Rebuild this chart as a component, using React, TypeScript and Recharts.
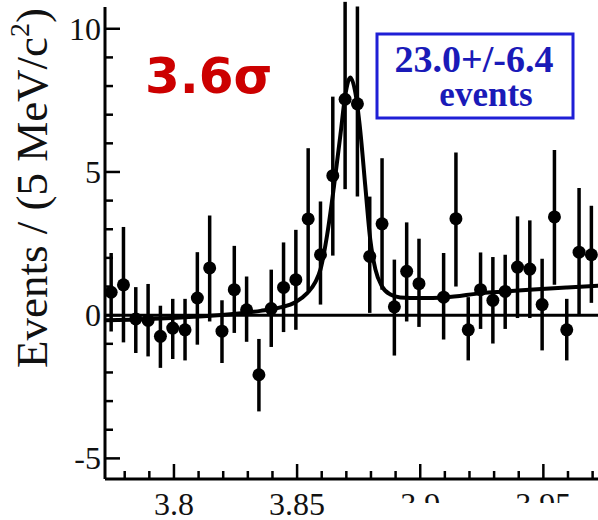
import React from "react";
import {
  ComposedChart,
  XAxis,
  YAxis,
  Scatter,
  Line,
  ErrorBar,
  ReferenceLine,
} from "recharts";

// bin centres (GeV/c^2) of the points that are drawn; the 3.9045 bin has no point
const binCenters = [
  3.7745, 3.7795, 3.7845, 3.7895, 3.7945, 3.7995, 3.8045, 3.8095, 3.8145,
  3.8195, 3.8245, 3.8295, 3.8345, 3.8395, 3.8445, 3.8495, 3.8545, 3.8595,
  3.8645, 3.8695, 3.8745, 3.8795, 3.8845, 3.8895, 3.8945, 3.8995, 3.9095,
  3.9145, 3.9195, 3.9245, 3.9295, 3.9345, 3.9395, 3.9445, 3.9495, 3.9545,
  3.9595, 3.9645, 3.9695,
];
const events = [
  0.8, 1.06, -0.13, -0.18, -0.74, -0.45, -0.51, 0.6, 1.65, -0.56, 0.89, 0.19,
  -2.08, 0.23, 0.97, 1.24, 3.36, 2.11, 4.87, 7.54, 7.38, 2.05, 3.19, 0.29,
  1.53, 1.1, 0.63, 3.37, -0.51, 0.89, 0.52, 0.83, 1.68, 1.61, 0.37, 3.43,
  -0.51, 2.2, 2.11,
];
const errUp = [
  1.37, 2.02, 1.11, 1.27, 1.07, 1.02, 1.08, 1.6, 1.83, 1.08, 1.53, 1.16, 1.25,
  1.36, 1.57, 1.74, 2.47, 1.86, 2.76, 3.4, 3.4, 2.09, 2.29, 1.65, 1.71, 1.57,
  1.54, 2.31, 1.14, 1.3, 1.51, 1.28, 1.77, 1.7, 1.6, 2.34, 1.08, 2.24, 1.71,
];
const errDown = [
  1.37, 2.01, 1.19, 1.26, 1.1, 1.08, 1.07, 1.63, 1.87, 1.11, 1.51, 1.12, 1.28,
  1.34, 1.56, 1.75, 2.51, 1.74, 2.79, 3.14, 3.24, 1.97, 2.3, 1.7, 1.75, 1.51,
  1.48, 2.37, 1.07, 1.37, 1.51, 1.31, 1.78, 1.71, 1.6, 2.37, 1.07, 2.18, 1.68,
];

// fit curve
const fitMass = [
  3.7722, 3.7823, 3.7945, 3.8047, 3.8148, 3.825, 3.8351, 3.8432, 3.8493,
  3.8541, 3.8574, 3.8595, 3.8622, 3.8649, 3.8676, 3.8696, 3.8716, 3.8737,
  3.8757, 3.8777, 3.8797, 3.8818, 3.8845, 3.8879, 3.8919, 3.9, 3.9102, 3.9251,
  3.9352, 3.9459, 3.9596, 3.973,
];
const fitValue = [
  -0.18, -0.16, -0.12, -0.07, -0.02, 0.05, 0.15, 0.27, 0.45, 0.77, 1.15, 1.6,
  2.8, 4.45, 6.3, 7.7, 8.3, 7.75, 6.4, 4.5, 2.65, 1.6, 1.0, 0.72, 0.62, 0.6,
  0.62, 0.77, 0.83, 0.9, 0.97, 1.03,
];

const xTicks = [
  3.78, 3.79, 3.8, 3.81, 3.82, 3.83, 3.84, 3.85, 3.86, 3.87, 3.88, 3.89, 3.9,
  3.91, 3.92, 3.93, 3.94, 3.95, 3.96, 3.97,
];
const xMajor = [3.8, 3.85, 3.9, 3.95];
const yTicks = [-5, -4, -3, -2, -1, 0, 1, 2, 3, 4, 5, 6, 7, 8, 9, 10];
const yMajor = [-5, 0, 5, 10];

const points = binCenters.map((m, i) => ({
  m,
  v: events[i],
  err: [errDown[i], errUp[i]],
}));
const fit = fitMass.map((m, i) => ({ m, f: fitValue[i] }));

const SERIF = "'Liberation Serif', 'Times New Roman', serif";
const LW = 2.5;

function BottomTick(props: any) {
  const { x, y, payload } = props;
  const major = xMajor.includes(payload.value);
  const cut = payload.value >= 3.9;
  const id = "xclip" + String(payload.value).replace(".", "_");
  return (
    <g>
      <line x1={x} x2={x} y1={y} y2={y - (major ? 15 : 8)} stroke="#000" strokeWidth={LW} />
      {major && cut && (
        <clipPath id={id}>
          <rect x={x - 60} y={y} width={120} height={24} />
        </clipPath>
      )}
      {major && (
        <text
          x={x}
          y={y + 36}
          textAnchor="middle"
          fontSize={32}
          fontFamily={SERIF}
          fill="#111"
          clipPath={cut ? `url(#${id})` : undefined}
        >
          {payload.value}
        </text>
      )}
    </g>
  );
}

function TopTick(props: any) {
  const { x, y, payload } = props;
  const major = xMajor.includes(payload.value);
  return <line x1={x} x2={x} y1={y} y2={y + (major ? 15 : 8)} stroke="#000" strokeWidth={LW} />;
}

function LeftTick(props: any) {
  const { x, y, payload } = props;
  const major = yMajor.includes(payload.value);
  return (
    <g>
      <line x1={x} x2={x + (major ? 15 : 8)} y1={y} y2={y} stroke="#000" strokeWidth={LW} />
      {major && (
        <text x={x - 4} y={y + 11} textAnchor="end" fontSize={32} fontFamily={SERIF} fill="#111">
          {payload.value}
        </text>
      )}
    </g>
  );
}

function RightTick(props: any) {
  const { x, y, payload } = props;
  const major = yMajor.includes(payload.value);
  return <line x1={x} x2={x - (major ? 15 : 8)} y1={y} y2={y} stroke="#000" strokeWidth={LW} />;
}

const Dot = (p: any) => <circle cx={p.cx} cy={p.cy} r={6.5} fill="#000" />;

export default function App() {
  return (
    <div
      style={{
        position: "fixed",
        left: 0,
        top: 0,
        width: 598,
        height: 520,
        overflow: "hidden",
        background: "#fff",
      }}
    >
      <ComposedChart width={600} height={520} margin={{ top: 7, right: 0, bottom: 0, left: 0 }}>
        <XAxis
          xAxisId="b"
          type="number"
          dataKey="m"
          domain={[3.772, 3.973]}
          ticks={xTicks}
          interval={0}
          height={41}
          tickSize={0}
          tickMargin={0}
          tick={<BottomTick />}
          axisLine={{ stroke: "#000", strokeWidth: 3 }}
          allowDataOverflow
        />
        <XAxis
          xAxisId="t"
          orientation="top"
          type="number"
          dataKey="m"
          domain={[3.772, 3.973]}
          ticks={xTicks}
          interval={0}
          height={0}
          tickSize={0}
          tickMargin={0}
          tick={<TopTick />}
          axisLine={{ stroke: "#000", strokeWidth: 3 }}
          allowDataOverflow
        />
        <YAxis
          yAxisId="l"
          type="number"
          domain={[-5.72, 10.76]}
          ticks={yTicks}
          interval={0}
          width={105}
          tickSize={0}
          tickMargin={0}
          tick={<LeftTick />}
          axisLine={{ stroke: "#000", strokeWidth: 3 }}
          allowDataOverflow
        />
        <YAxis
          yAxisId="r"
          orientation="right"
          type="number"
          domain={[-5.72, 10.76]}
          ticks={yTicks}
          interval={0}
          width={0}
          tickSize={0}
          tickMargin={0}
          tick={<RightTick />}
          axisLine={{ stroke: "#000", strokeWidth: 3 }}
          allowDataOverflow
        />
        <ReferenceLine xAxisId="b" yAxisId="l" y={0} stroke="#000" strokeWidth={3} />
        <Line
          xAxisId="b"
          yAxisId="l"
          data={fit}
          dataKey="f"
          type="monotone"
          stroke="#000"
          strokeWidth={4}
          dot={false}
          activeDot={false}
          isAnimationActive={false}
        />
        <Scatter
          xAxisId="b"
          yAxisId="l"
          data={points}
          dataKey="v"
          shape={Dot}
          isAnimationActive={false}
        >
          <ErrorBar dataKey="err" direction="y" width={0} stroke="#000" strokeWidth={3.5} />
        </Scatter>
      </ComposedChart>
      <svg
        width={598}
        height={520}
        style={{ position: "absolute", left: 0, top: 0, pointerEvents: "none" }}
      >
        <text
          transform="translate(47,188) rotate(-90)"
          textAnchor="middle"
          fontSize={45}
          fontFamily={SERIF}
          fill="#111"
        >
          Events / (5 MeV/c
          <tspan dy={-18} fontSize={28}>2</tspan>
          <tspan dy={18}>)</tspan>
        </text>
        <text x={145} y={93} fontSize={50} fontWeight="bold" fontFamily="'DejaVu Sans', sans-serif" fill="#cc0000">
          3.6σ
        </text>
        <rect x={377} y={34} width={196} height={84} fill="#fff" stroke="#1f1fd6" strokeWidth={3} />
        <text x={474} y={72} textAnchor="middle" fontSize={38} fontWeight="bold" fontFamily={SERIF} fill="#1a1ab8">
          23.0+/-6.4
        </text>
        <text x={486} y={106} textAnchor="middle" fontSize={35} fontWeight="bold" fontFamily={SERIF} fill="#1a1ab8">
          events
        </text>
      </svg>
    </div>
  );
}
